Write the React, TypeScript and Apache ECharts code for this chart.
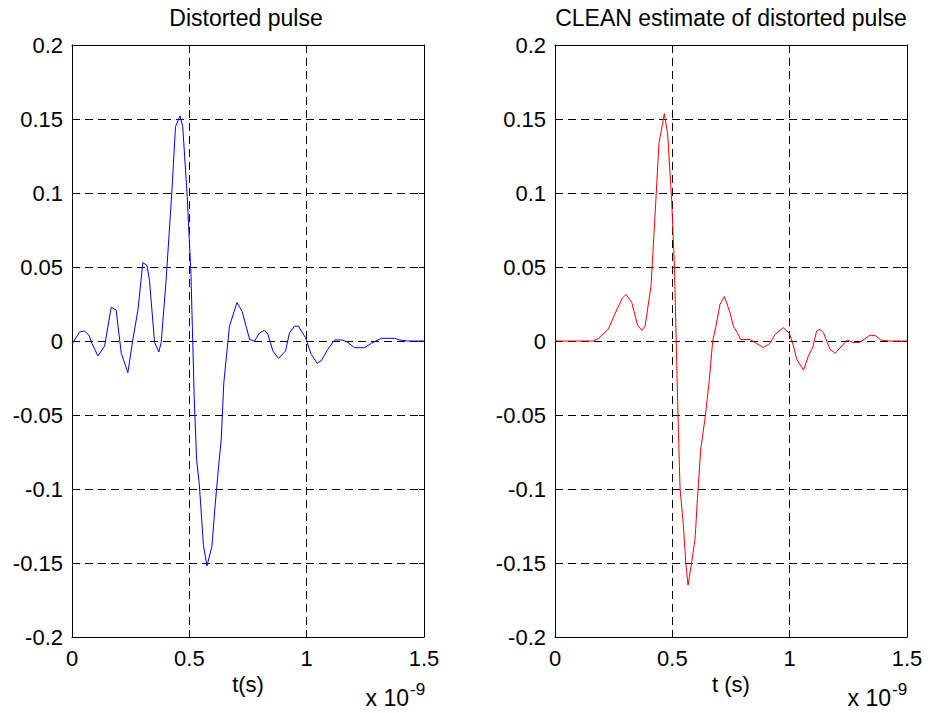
import React, { useEffect, useRef } from "react";
import * as echarts from "echarts";

// time in units of 1e-9 s
const distortedT = [0, 0.032, 0.053, 0.072, 0.085, 0.11, 0.139, 0.167, 0.188, 0.21, 0.238, 0.259, 0.281, 0.302, 0.32, 0.33, 0.352, 0.37, 0.38, 0.401, 0.426, 0.441, 0.46, 0.472, 0.491, 0.507, 0.521, 0.531, 0.543, 0.56, 0.575, 0.596, 0.61, 0.624, 0.636, 0.647, 0.671, 0.703, 0.725, 0.757, 0.778, 0.8, 0.821, 0.835, 0.856, 0.88, 0.91, 0.927, 0.948, 0.965, 0.995, 1.019, 1.045, 1.062, 1.09, 1.119, 1.152, 1.176, 1.204, 1.247, 1.275, 1.318, 1.375, 1.396, 1.43, 1.5];
const distortedV = [-0.002, 0.006, 0.0068, 0.004, -0.0016, -0.01, -0.0034, 0.0228, 0.021, -0.0083, -0.0214, 0.0007, 0.021, 0.053, 0.051, 0.041, -0.001, -0.0074, -0.001, 0.041, 0.102, 0.1448, 0.152, 0.1448, 0.0975, 0.045, -0.039, -0.08, -0.098, -0.138, -0.152, -0.139, -0.111, -0.086, -0.066, -0.028, 0.01, 0.026, 0.02, 0.001, 0, 0.0056, 0.0072, 0.0045, -0.0067, -0.0118, -0.0067, 0.0056, 0.01, 0.01, 0.0023, -0.009, -0.015, -0.0134, -0.0056, 0.0007, 0.0007, -0.001, -0.0045, -0.0045, -0.0016, 0.0018, 0.0018, 0.0007, 0, 0];

const cleanT = [0, 0.163, 0.185, 0.227, 0.263, 0.287, 0.303, 0.327, 0.352, 0.37, 0.384, 0.409, 0.426, 0.443, 0.466, 0.48, 0.497, 0.509, 0.519, 0.526, 0.533, 0.547, 0.558, 0.567, 0.583, 0.597, 0.607, 0.621, 0.639, 0.658, 0.672, 0.686, 0.703, 0.722, 0.746, 0.76, 0.777, 0.791, 0.831, 0.853, 0.888, 0.916, 0.938, 0.973, 0.999, 1.016, 1.03, 1.059, 1.08, 1.098, 1.115, 1.13, 1.144, 1.172, 1.194, 1.222, 1.246, 1.269, 1.296, 1.317, 1.34, 1.364, 1.388, 1.42, 1.5];
const cleanV = [0, 0, 0.0016, 0.008, 0.021, 0.029, 0.0315, 0.026, 0.0106, 0.0072, 0.01, 0.037, 0.084, 0.1335, 0.1537, 0.14, 0.0954, 0.0505, -0.017, -0.0617, -0.0998, -0.1245, -0.151, -0.165, -0.149, -0.1335, -0.1065, -0.073, -0.0527, -0.0258, 0, 0.01, 0.0247, 0.03, 0.019, 0.01, 0.0056, 0.001, 0.001, -0.001, -0.0045, -0.0016, 0.0045, 0.009, 0.0052, -0.0034, -0.0123, -0.0197, -0.01, -0.0045, 0.0067, 0.0079, 0.0056, -0.0056, -0.0083, -0.0034, 0.0007, -0.001, -0.001, 0.001, 0.0038, 0.0038, 0.0007, 0, 0];

const titles = ["Distorted pulse", "CLEAN estimate of distorted pulse"];
const xNames = ["t(s)", "t (s)"];
const xMin = 0, xMax = 1.5, xStep = 0.5;
const yMin = -0.2, yMax = 0.2, yStep = 0.05;

const FONT = "'Liberation Sans', Arial, Helvetica, sans-serif";

export default function App() {
  const ref = useRef<HTMLDivElement>(null);
  useEffect(() => {
    if (!ref.current) return;
    const chart = echarts.init(ref.current, undefined, { renderer: "svg" });
    const grids = [
      { left: 72, top: 45, width: 352, height: 592 },
      { left: 555, top: 45, width: 352, height: 592 },
    ];
    const dash = { color: "#000", width: 1, type: [8, 5] as any };
    const frame = { show: true, onZero: false, lineStyle: { color: "#000", width: 1 } };
    const tick = { show: true, inside: true, length: 5, lineStyle: { color: "#000" } };
    const xAxes: any[] = [];
    const yAxes: any[] = [];
    grids.forEach((_, i) => {
      xAxes.push({
        type: "value", gridIndex: i, min: xMin, max: xMax, interval: xStep, position: "bottom",
        name: xNames[i], nameLocation: "middle", nameGap: 30,
        nameTextStyle: { fontSize: 22, color: "#000", fontFamily: FONT },
        axisLine: frame, axisTick: tick,
        axisLabel: { fontSize: 22, color: "#000", fontFamily: FONT, margin: 10, formatter: (v: number) => String(+v.toFixed(2)) },
        splitLine: { show: true, lineStyle: dash },
      });
      xAxes.push({
        type: "value", gridIndex: i, min: xMin, max: xMax, interval: xStep, position: "top",
        axisLine: frame, axisTick: tick,
        axisLabel: { show: false }, splitLine: { show: false },
      });
      yAxes.push({
        type: "value", gridIndex: i, min: yMin, max: yMax, interval: yStep, position: "left",
        axisLine: frame, axisTick: tick,
        axisLabel: { fontSize: 22, color: "#000", fontFamily: FONT, margin: 9, formatter: (v: number) => String(+v.toFixed(2)) },
        splitLine: { show: true, lineStyle: dash },
      });
      yAxes.push({
        type: "value", gridIndex: i, min: yMin, max: yMax, interval: yStep, position: "right",
        axisLine: frame, axisTick: tick,
        axisLabel: { show: false }, splitLine: { show: false },
      });
    });
    const txt = (text: string, x: number, y: number, size: number, align: string) => ({
      type: "text", x, y, z: 10,
      style: { text, fill: "#000", fontSize: size, fontFamily: FONT, align, verticalAlign: "middle" },
    });
    chart.setOption({
      animation: false,
      backgroundColor: "#fff",
      grid: grids,
      xAxis: xAxes,
      yAxis: yAxes,
      series: [
        {
          type: "line", xAxisIndex: 0, yAxisIndex: 0, showSymbol: false, symbol: "none",
          data: distortedT.map((t, k) => [t, distortedV[k]]),
          lineStyle: { color: "#0000ff", width: 1 }, itemStyle: { color: "#0000ff" },
        },
        {
          type: "line", xAxisIndex: 2, yAxisIndex: 2, showSymbol: false, symbol: "none",
          data: cleanT.map((t, k) => [t, cleanV[k]]),
          lineStyle: { color: "#ff0000", width: 1 }, itemStyle: { color: "#ff0000" },
        },
      ],
      graphic: [
        txt(titles[0], 246, 18, 23, "center"),
        txt(titles[1], 731, 18, 23, "center"),
        txt("x 10", 409, 698, 23, "right"),
        txt("-9", 410, 689, 17, "left"),
        txt("x 10", 891, 698, 23, "right"),
        txt("-9", 892, 689, 17, "left"),
      ],
    });
    return () => chart.dispose();
  }, []);
  return (
    <div
      ref={ref}
      style={{ position: "fixed", left: 0, top: 0, width: 928, height: 713, background: "#fff" }}
    />
  );
}
